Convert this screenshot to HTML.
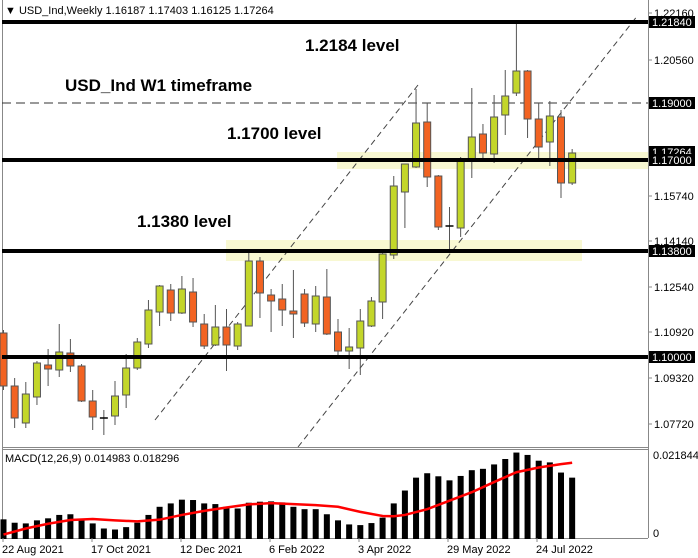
<!DOCTYPE html>
<html><head><meta charset="utf-8">
<style>
html,body{margin:0;padding:0;background:#fff;}
svg{display:block;font-family:"Liberation Sans",sans-serif;}
.t{font-size:11px;fill:#000;}
.b{font-size:17px;font-weight:bold;fill:#000;}
.w{font-size:11px;fill:#fff;}
</style></head><body>
<svg id="s" width="698" height="558" viewBox="0 0 698 558" xmlns="http://www.w3.org/2000/svg">
<rect width="698" height="558" fill="#fff"/>
<!-- bands -->
<rect x="337" y="152" width="311" height="17" fill="#f8f8d2"/>
<rect x="226" y="240" width="356" height="21" fill="#f8f8d2"/>
<!-- frames -->
<line x1="2.5" y1="0" x2="2.5" y2="538" stroke="#888"/>
<line x1="648.5" y1="0" x2="648.5" y2="538" stroke="#888"/>
<line x1="2" y1="447.5" x2="648" y2="447.5" stroke="#888"/>
<line x1="2" y1="449.5" x2="648" y2="449.5" stroke="#888"/>
<line x1="2" y1="538.5" x2="648" y2="538.5" stroke="#888"/>
<!-- dashed horizontal -->
<line x1="2" y1="103" x2="648" y2="103" stroke="#333" stroke-dasharray="9,5"/>
<!-- channel lines -->
<line x1="155" y1="420" x2="418" y2="85" stroke="#444" stroke-dasharray="6,4"/>
<line x1="298" y1="447" x2="638" y2="15" stroke="#444" stroke-dasharray="6,4"/>
<g id="candles"></g>
<!-- thick levels -->
<line x1="2" y1="22" x2="648" y2="22" stroke="#000" stroke-width="4"/>
<line x1="2" y1="160" x2="648" y2="160" stroke="#000" stroke-width="4"/>
<line x1="2" y1="251" x2="648" y2="251" stroke="#000" stroke-width="4"/>
<line x1="2" y1="357" x2="648" y2="357" stroke="#000" stroke-width="4"/>
<!-- header -->
<text class="t" x="5" y="14">▼ USD_Ind,Weekly  1.16187 1.17403 1.16125 1.17264</text>
<!-- annotations -->
<text class="b" x="305" y="51">1.2184 level</text>
<text class="b" x="65" y="91">USD_Ind W1 timeframe</text>
<text class="b" x="227" y="139">1.1700 level</text>
<text class="b" x="137" y="227">1.1380 level</text>
<!-- price axis -->
<g stroke="#888">
<line x1="648" y1="13" x2="652" y2="13"/><line x1="648" y1="60" x2="652" y2="60"/>
<line x1="648" y1="196" x2="652" y2="196"/><line x1="648" y1="241" x2="652" y2="241"/>
<line x1="648" y1="287" x2="652" y2="287"/><line x1="648" y1="332" x2="652" y2="332"/>
<line x1="648" y1="378" x2="652" y2="378"/><line x1="648" y1="424" x2="652" y2="424"/>
</g>
<text class="t" x="654" y="17">1.22160</text>
<text class="t" x="654" y="64">1.20560</text>
<text class="t" x="654" y="200">1.15740</text>
<text class="t" x="654" y="245">1.14140</text>
<text class="t" x="654" y="291">1.12540</text>
<text class="t" x="654" y="336">1.10920</text>
<text class="t" x="654" y="382">1.09320</text>
<text class="t" x="654" y="428">1.07720</text>
<rect x="649" y="16" width="46" height="12" fill="#000"/><text class="w" x="652" y="26">1.21840</text>
<rect x="649" y="97" width="46" height="12" fill="#000"/><text class="w" x="652" y="107">1.19000</text>
<rect x="649" y="146" width="46" height="11" fill="#000"/><text class="w" x="652" y="156">1.17264</text>
<rect x="649" y="154" width="46" height="12" fill="#000"/><text class="w" x="652" y="164">1.17000</text>
<rect x="649" y="245" width="46" height="12" fill="#000"/><text class="w" x="652" y="255">1.13800</text>
<rect x="649" y="351" width="46" height="12" fill="#000"/><text class="w" x="652" y="361">1.10000</text>
<!-- MACD -->
<g id="macd"></g>
<polyline id="sig" fill="none" stroke="#f00" stroke-width="2.5"/>
<text class="t" x="5" y="462">MACD(12,26,9) 0.014983 0.018296</text>
<text class="t" x="653" y="459">0.021844</text>
<text class="t" x="653" y="537">0</text>
<!-- dates -->
<g stroke="#888">
<line x1="3" y1="538" x2="3" y2="542"/><line x1="92" y1="538" x2="92" y2="542"/>
<line x1="181" y1="538" x2="181" y2="542"/><line x1="270" y1="538" x2="270" y2="542"/>
<line x1="359" y1="538" x2="359" y2="542"/><line x1="448" y1="538" x2="448" y2="542"/>
<line x1="537" y1="538" x2="537" y2="542"/>
</g>
<text class="t" x="2" y="553">22 Aug 2021</text>
<text class="t" x="91" y="553">17 Oct 2021</text>
<text class="t" x="180" y="553">12 Dec 2021</text>
<text class="t" x="269" y="553">6 Feb 2022</text>
<text class="t" x="358" y="553">3 Apr 2022</text>
<text class="t" x="447" y="553">29 May 2022</text>
<text class="t" x="536" y="553">24 Jul 2022</text>
</svg>
<script>
var C=[["o",333,386,330,390],["o",386,418,378,428],["g",394,423,382,428],["g",363,397,361,405],["o",365,369,349,386],["g",352,370,324,377],["o",353,366,339,372],["o",366,401,364,402],["o",401,417,390,430],["d",418,418,410,435],["g",396,416,381,425],["g",368,395,354,408],["g",342,368,338,370],["g",310,344,300,348],["g",286,312,285,326],["o",290,313,284,321],["g",289,313,276,314],["o",292,322,278,327],["o",324,346,314,349],["g",327,345,305,346],["o",327,345,309,371],["g",324,346,322,350],["g",261,326,252,326],["o",261,293,257,318],["o",295,301,289,332],["o",299,310,284,326],["o",311,314,270,338],["o",294,323,289,327],["g",296,324,286,332],["o",297,334,269,335],["o",332,351,319,356],["g",347,351,328,369],["g",321,348,309,375],["g",301,326,297,327],["g",254,302,249,319],["g",186,255,176,259],["g",164,192,164,228],["g",123,167,89,168],["o",122,177,103,187],["o",176,227,175,230],["d",226,226,207,250],["g",160,228,157,237],["g",137,159,88,178],["o",134,153,124,162],["g",117,154,95,163],["g",96,115,70,135],["g",71,93,23,96],["o",71,119,70,138],["o",119,147,103,160],["g",116,142,101,166],["o",117,183,110,198],["g",153,183,149,185]];
var M=[235,245,247,238,232,222,220,237,247,262,265,258,245,222,198,188,177,178,188,190,198,203,186,183,182,185,198,205,205,220,238,250,252,246,230,188,150,112,99,108,120,107,90,86,73,57,38,45,62,67,97,112];
var S=[[0,280],[2,262],[4,248],[6,237],[8,234],[10,238],[12,241],[14,236],[16,222],[18,210],[20,200],[22,191],[24,187],[26,190],[28,193],[30,198],[32,213],[34,225],[35,226],[36,222],[38,205],[40,180],[42,155],[44,125],[46,96],[48,82],[50,72],[51,68]];
var ns="http://www.w3.org/2000/svg";
function el(t,a,p){var e=document.createElementNS(ns,t);for(var k in a)e.setAttribute(k,a[k]);p.appendChild(e);return e;}
var g=document.getElementById("candles"),m=document.getElementById("macd");
function X(i){return 3.5+11.15*i;}
C.forEach(function(c,i){var x=X(i);
 el("line",{x1:x,y1:c[3],x2:x,y2:c[4],stroke:"#555","stroke-width":1},g);
 if(c[0]=="d"){el("line",{x1:x-4,y1:c[1],x2:x+4,y2:c[1],stroke:"#000","stroke-width":1.5},g);}
 else el("rect",{x:x-3.5,y:c[1],width:7,height:Math.max(c[2]-c[1],2),fill:c[0]=="g"?"#c3d62a":"#f26322",stroke:"#555","stroke-width":1},g);
});
function Y(z){return 539-(293-z)/2.95;}
M.forEach(function(z,i){var x=X(i);el("rect",{x:x-3,y:Y(z),width:6,height:539-Y(z),fill:"#000"},m);});
document.getElementById("sig").setAttribute("points",S.map(function(p){return X(p[0])+","+Y(p[1]);}).join(" "));
</script>
</body></html>
